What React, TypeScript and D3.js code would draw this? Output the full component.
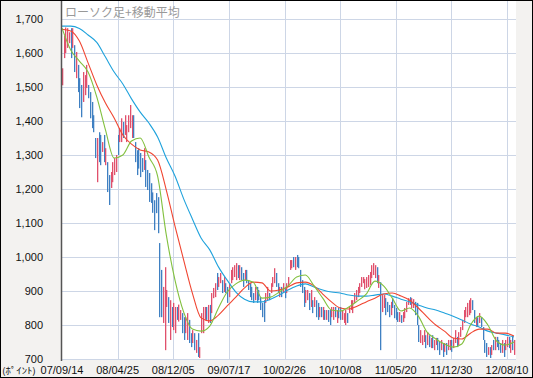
import React from "react";
import * as d3 from "d3";

// weekly high / low (points)
const highs = [
  1555,1650,1675,1673,1661,1673,1673,1623,1603,1565,
  1526,1506,1544,1535,1565,1506,1485,1456,1417,1350,
  1350,1367,1359,1338,1359,1320,1279,1241,1250,1279,
  1291,1300,1359,1379,1408,1397,1417,1388,1417,1447,
  1417,1417,1338,1314,1320,1306,1291,1320,1285,1256,
  1247,1217,1190,1167,1188,1176,1041,962,912,970,
  903,882,873,853,865,853,853,860,844,835,
  823,823,835,815,776,785,776,756,776,735,
  835,853,853,853,859,859,894,909,923,953,
  941,953,932,941,923,912,923,962,970,976,
  982,976,976,970,953,962,962,932,923,912,
  894,912,912,903,882,865,873,894,912,894,
  923,941,967,953,923,912,912,923,912,923,
  941,991,991,1000,1000,1006,1000,962,932,912,
  903,903,894,903,873,882,873,865,853,853,
  853,844,844,844,844,853,853,853,844,850,
  853,844,835,844,835,853,873,873,894,903,
  912,923,941,941,935,941,947,956,976,982,
  976,970,947,926,888,888,879,868,859,868,
  879,859,850,838,838,829,838,850,868,879,
  882,879,876,868,865,800,785,770,785,770,
  779,770,762,770,756,762,762,750,756,747,
  747,747,756,756,756,762,785,765,779,794,
  815,844,853,865,873,879,873,844,823,823,
  835,823,794,756,747,735,735,741,756,765,
  765,756,747,756,747,756,765,765,756,765,
  756,
];
const lows = [
  1505,1585,1600,1615,1629,1585,1615,1544,1526,1485,
  1438,1411,1456,1476,1497,1467,1408,1379,1367,1291,
  1220,1279,1270,1309,1279,1270,1191,1153,1203,1220,
  1241,1250,1300,1338,1338,1350,1359,1338,1367,1379,
  1350,1350,1279,1241,1260,1235,1250,1256,1206,1197,
  1162,1159,1130,1079,1129,1070,823,823,806,726,
  853,806,756,794,785,776,815,810,815,776,
  756,776,756,747,735,747,726,718,706,703,
  776,776,815,815,806,806,835,879,882,903,
  912,923,894,897,894,865,882,923,932,941,
  932,938,932,932,912,932,923,903,882,873,
  865,873,865,873,844,823,809,865,873,873,
  894,912,923,912,894,882,882,894,879,894,
  912,962,967,970,962,970,967,912,894,853,
  865,873,844,853,835,853,823,815,823,823,
  815,815,815,809,800,823,815,823,806,820,
  815,815,806,800,806,835,844,835,865,873,
  882,894,912,923,905,909,912,918,938,947,
  938,923,909,726,838,850,829,838,823,829,
  850,820,815,809,809,806,809,820,838,859,
  859,850,850,829,800,750,747,741,750,732,
  741,735,732,732,726,741,726,712,726,706,
  721,712,726,726,721,732,747,735,741,765,
  785,806,823,823,829,835,844,806,794,794,
  806,794,756,718,706,712,703,712,726,726,
  735,726,718,718,706,726,735,732,718,726,
  712,
];
// u = rising week (red), d = falling week (blue)
const directions = (
  "uuuuududud" + "dduuuddddd" + "uddududduu" + "uuduuduuuu" +
  "uddddddudd" + "dddddddduu" + "ududuuduud" + "duuddududu" +
  "uuududuuud" + "uududduuuu" + "ududdudddd" + "duddddduud" +
  "uuuddududu" + "uuududdddd" + "uudududdud" + "ududduudud" +
  "duuuduuuuu" + "uuuuuuuuuu" + "ududuudddu" + "dddduduuuu" +
  "duuddduuud" + "ududuuddud" + "uduuduuduu" + "uuuuuuddud" +
  "uddddududu" + "ddduduudud" + "u"
).split("");

// moving averages sampled at these week indices
const maWeeks = [
  0,5,10,15,20,25,30,35,40,45,50,55,60,65,70,75,80,85,90,95,
  100,105,110,115,120,125,130,135,140,145,150,155,160,165,170,175,180,185,190,195,
  200,205,210,215,220,225,230,235,240,245,250,255,260,
];
const maShort = [
  1673,1609,1576,1544,1471,1374,1291,1300,1341,1350,1294,1238,1065,932,838,788,782,797,850,897,
  921,932,926,879,882,897,915,941,947,915,879,844,841,853,871,891,929,915,879,841,
  850,826,779,759,744,735,744,800,826,800,753,741,750,
];
const maMid = [
  1670,1665,1635,1571,1506,1453,1409,1359,1332,1315,1309,1285,1197,1091,991,894,821,812,829,856,
  882,909,926,924,900,903,912,924,926,915,891,868,850,847,856,868,879,891,894,885,
  873,850,824,800,782,762,759,776,788,788,776,776,768,
];
const maLong = [
  1679,1679,1672,1653,1631,1588,1544,1509,1465,1426,1394,1353,1291,1238,1171,1112,1056,1021,971,932,
  897,876,868,868,876,888,903,915,921,912,903,897,894,888,885,885,888,891,885,876,
  868,859,850,844,835,826,815,803,794,782,776,771,765,
];

const tickWeeks = [0, 32, 64, 96, 128, 160, 192, 224, 256];
const tickLabels = ["07/09/14", "08/04/25", "08/12/05", "09/07/17", "10/02/26", "10/10/08", "11/05/20", "11/12/30", "12/08/10"];
const yTicks = [700, 800, 900, 1000, 1100, 1200, 1300, 1400, 1500, 1600, 1700];

const W = 533, H = 378;
const PL = 61, PR = 516, PT = 1, PB = 359;

export default function App() {
  const x = d3.scaleLinear().domain([0, 256]).range([62, 507]);
  const y = d3.scaleLinear().domain([700, 1700]).range([359, 19]);
  const fmt = d3.format(",");
  const line = (vals: number[]) =>
    d3.line<number>()
      .x((_, i) => x(maWeeks[i]))
      .y((v) => y(v))
      .curve(d3.curveMonotoneX)(vals) || "";

  const latin = "'Liberation Sans', Arial, sans-serif";
  const cjk = "'Noto Sans CJK JP', sans-serif";

  return (
    <div style={{ position: "absolute", left: 0, top: 0 }}>
      <svg width={W} height={H} style={{ display: "block" }}>
        <defs>
          <clipPath id="plot">
            <rect x={PL} y={PT} width={PR - PL} height={PB - PT + 1} />
          </clipPath>
        </defs>
        <rect x={0} y={0} width={W} height={H} fill="#f3f2f0" />
        <rect x={PL} y={PT} width={PR - PL} height={PB - PT} fill="#ffffff" />
        {yTicks.map((t) => (
          <line key={"gy" + t} x1={PL} x2={PR} y1={Math.round(y(t)) + 0.5} y2={Math.round(y(t)) + 0.5}
            stroke="#cdd6e6" strokeWidth={1} />
        ))}
        {tickWeeks.slice(1).map((t) => (
          <line key={"gx" + t} x1={Math.round(x(t)) + 0.5} x2={Math.round(x(t)) + 0.5} y1={PT} y2={PB}
            stroke="#cdd6e6" strokeWidth={1} />
        ))}
        <g clipPath="url(#plot)">
          {highs.map((h, i) => {
            const y1 = y(h), y2 = y(lows[i]);
            return (
              <rect key={"b" + i} x={Math.round(x(i))} y={y1} width={1.3} height={Math.max(1, y2 - y1)}
                fill={directions[i] === "u" ? "#e0506c" : "#3f80c2"} />
            );
          })}
          <path d={line(maLong)} fill="none" stroke="#1fa2dc" strokeWidth={1.1} />
          <path d={line(maMid)} fill="none" stroke="#f04632" strokeWidth={1.1} />
          <path d={line(maShort)} fill="none" stroke="#82c03e" strokeWidth={1.1} />
        </g>
        <line x1={PL + 0.5} x2={PL + 0.5} y1={0} y2={PB + 2} stroke="#555" strokeWidth={1.5} />
        <text x={65} y={17} fontFamily={cjk} fontSize={12} fill="#999">ローソク足+移動平均</text>
        {yTicks.map((t) => (
          <text key={"ly" + t} x={43} y={y(t) + 4} textAnchor="end" fontFamily={latin} fontSize={11} fill="#111">
            {fmt(t)}
          </text>
        ))}
        {tickWeeks.map((t, i) => (
          <text key={"lx" + t} x={x(t)} y={374} textAnchor="middle" fontFamily={latin} fontSize={11} fill="#111">
            {tickLabels[i]}
          </text>
        ))}
        <text x={2} y={374} fontFamily={cjk} fontSize={9} fill="#111" textLength={34} lengthAdjust="spacingAndGlyphs">(ﾎﾟｲﾝﾄ)</text>
        <rect x={0.5} y={0.5} width={W - 1} height={H - 1} fill="none" stroke="#000" strokeWidth={1} />
      </svg>
    </div>
  );
}
